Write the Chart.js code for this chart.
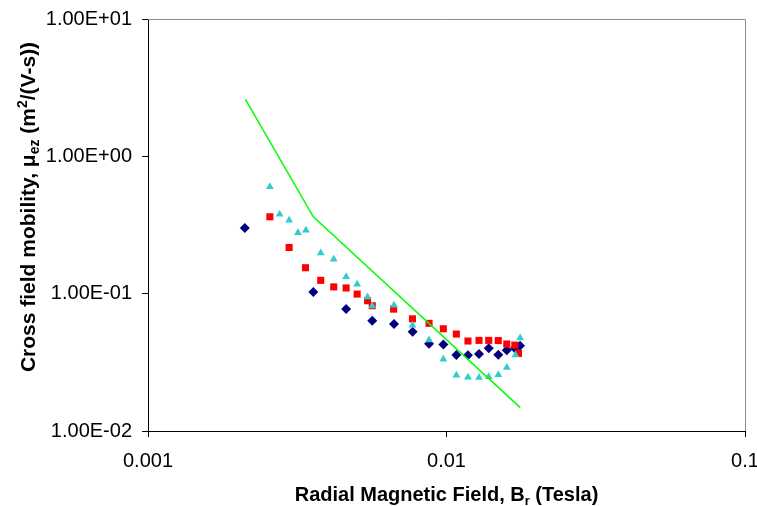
<!DOCTYPE html>
<html>
<head>
<meta charset="utf-8">
<script src="https://cdn.jsdelivr.net/npm/chart.js@4"></script>
<style>
  body { margin: 0; background: #fff; }
</style>
</head>
<body>
<canvas id="chart1" width="757" height="506"></canvas>
<script>
// data (B in Tesla, mobility in m2/(V-s))
const navyB  = [0.00211, 0.00358, 0.00461, 0.00564, 0.00667, 0.0077, 0.00874, 0.00976, 0.01079, 0.0118, 0.01285, 0.01385, 0.01491, 0.01592, 0.01694, 0.01764];
const navyMu = [0.301, 0.103, 0.0772, 0.0635, 0.0601, 0.0528, 0.0432, 0.0426, 0.0357, 0.0356, 0.0363, 0.0400, 0.0359, 0.0388, 0.0400, 0.0418];

const redB  = [0.00256, 0.00297, 0.00337, 0.00379, 0.00419, 0.00461, 0.00502, 0.00544, 0.00564, 0.00665, 0.00769, 0.00874, 0.00976, 0.01079, 0.0118, 0.01285, 0.01385, 0.01491, 0.01592, 0.01694, 0.01742];
const redMu = [0.363, 0.217, 0.1545, 0.125, 0.112, 0.110, 0.0993, 0.0888, 0.0817, 0.0772, 0.0656, 0.0608, 0.0555, 0.0508, 0.0452, 0.0457, 0.0457, 0.0456, 0.0430, 0.0422, 0.0367];

const cyanB  = [0.00256, 0.00276, 0.00297, 0.00318, 0.00338, 0.00379, 0.00419, 0.00461, 0.00502, 0.00544, 0.00564, 0.00667, 0.00769, 0.00874, 0.00976, 0.01079, 0.0118, 0.01285, 0.01385, 0.01491, 0.01592, 0.01702, 0.01764];
const cyanMu = [0.601, 0.378, 0.342, 0.278, 0.289, 0.198, 0.178, 0.133, 0.117, 0.0945, 0.0813, 0.0822, 0.059, 0.0459, 0.0333, 0.0255, 0.0246, 0.0245, 0.0248, 0.0257, 0.029, 0.0357, 0.0475];

const lineB  = [0.00212, 0.00358, 0.01766];
const lineMu = [2.60, 0.363, 0.0148];

const xTicks = [0.001, 0.01, 0.1];
const yTicks = [0.01, 0.1, 1, 10];

function pts(xs, ys) {
  return xs.map(function (x, i) { return { x: x, y: ys[i] }; });
}

function sci(v) {
  const e = Math.round(Math.log10(v));
  return '1.00E' + (e < 0 ? '-' : '+') + String(Math.abs(e)).padStart(2, '0');
}

const FONT = '"Liberation Sans", Arial, sans-serif';

// draws text runs with sub/superscripts, centred on (0,0) of current transform
function richText(ctx, runs) {
  let total = 0;
  runs.forEach(function (r) {
    ctx.font = 'bold ' + r.size + 'px ' + FONT;
    r.w = ctx.measureText(r.t).width;
    total += r.w;
  });
  let x = -total / 2;
  ctx.textBaseline = 'alphabetic';
  ctx.textAlign = 'left';
  runs.forEach(function (r) {
    ctx.font = 'bold ' + r.size + 'px ' + FONT;
    ctx.fillText(r.t, x, r.dy || 0);
    x += r.w;
  });
}

const framePlugin = {
  id: 'frame',
  beforeDatasetsDraw(chart) {
    const a = chart.chartArea, ctx = chart.ctx;
    ctx.save();
    ctx.strokeStyle = '#8c8c8c';
    ctx.lineWidth = 1;
    ctx.beginPath();
    ctx.moveTo(a.left, Math.round(a.top) + 0.5);
    ctx.lineTo(a.right + 0.5, Math.round(a.top) + 0.5);
    ctx.lineTo(a.right + 0.5, a.bottom);
    ctx.stroke();
    ctx.restore();
  },
  afterDraw(chart) {
    const a = chart.chartArea, ctx = chart.ctx;
    ctx.save();
    ctx.fillStyle = '#000';
    // x title
    ctx.translate((a.left + a.right) / 2, 501);
    richText(ctx, [
      { t: 'Radial Magnetic Field, B', size: 20 },
      { t: 'r', size: 13, dy: 4 },
      { t: ' (Tesla)', size: 20 }
    ]);
    ctx.restore();
    ctx.save();
    ctx.fillStyle = '#000';
    // y title
    ctx.translate(35, 207);
    ctx.rotate(-Math.PI / 2);
    richText(ctx, [
      { t: 'Cross field mobility, \u03bc', size: 21 },
      { t: 'ez', size: 14, dy: 4 },
      { t: ' (m', size: 21 },
      { t: '2', size: 14, dy: -8 },
      { t: '/(V-s))', size: 21 }
    ]);
    ctx.restore();
  }
};

const data = {
  datasets: [{
    label: 'series 1',
    data: pts(navyB, navyMu),
    pointStyle: 'rectRot',
    pointRadius: 5,
    backgroundColor: '#000080',
    borderColor: '#000080',
    borderWidth: 0,
    order: 3
  }, {
    label: 'series 2',
    data: pts(redB, redMu),
    pointStyle: 'rect',
    pointRadius: 5,
    backgroundColor: '#ff0000',
    borderColor: '#ff0000',
    borderWidth: 0,
    order: 2
  }, {
    label: 'series 3',
    data: pts(cyanB, cyanMu),
    pointStyle: 'triangle',
    pointRadius: 4.5,
    backgroundColor: '#33cccc',
    borderColor: '#33cccc',
    borderWidth: 0,
    order: 1
  }, {
    label: 'series 4',
    data: pts(lineB, lineMu),
    showLine: true,
    pointRadius: 0,
    borderColor: '#00ff00',
    borderWidth: 1.5,
    order: 0
  }]
};

const config = {
  type: 'scatter',
  data: data,
  options: {
    responsive: false,
    animation: false,
    layout: { padding: { left: 0, right: 12, top: 19, bottom: 0 } },
    plugins: {
      legend: { display: false },
      tooltip: { enabled: false }
    },
    scales: {
      x: {
        type: 'logarithmic',
        min: 0.001,
        max: 0.1,
        afterBuildTicks: function (s) { s.ticks = xTicks.map(function (v) { return { value: v }; }); },
        afterFit: function (s) { s.height = 75; s.paddingLeft = 0; s.paddingRight = 0; },
        ticks: {
          color: '#000',
          font: { family: FONT, size: 20 },
          padding: 12,
          maxRotation: 0,
          autoSkip: false,
          callback: function (v) { return String(v); }
        },
        grid: { drawOnChartArea: false, tickLength: 6, color: '#000' },
        border: { color: '#000', width: 1 }
      },
      y: {
        type: 'logarithmic',
        min: 0.01,
        max: 10,
        afterBuildTicks: function (s) { s.ticks = yTicks.map(function (v) { return { value: v }; }); },
        afterFit: function (s) { s.width = 148; s.paddingTop = 0; s.paddingBottom = 0; },
        ticks: {
          color: '#000',
          font: { family: FONT, size: 20 },
          padding: 10,
          autoSkip: false,
          callback: function (v) { return sci(v); }
        },
        grid: { drawOnChartArea: false, tickLength: 6, color: '#000' },
        border: { color: '#000', width: 1 }
      }
    }
  },
  plugins: [framePlugin]
};

const myChart = new Chart(document.getElementById('chart1'), config);
</script>
</body>
</html>
